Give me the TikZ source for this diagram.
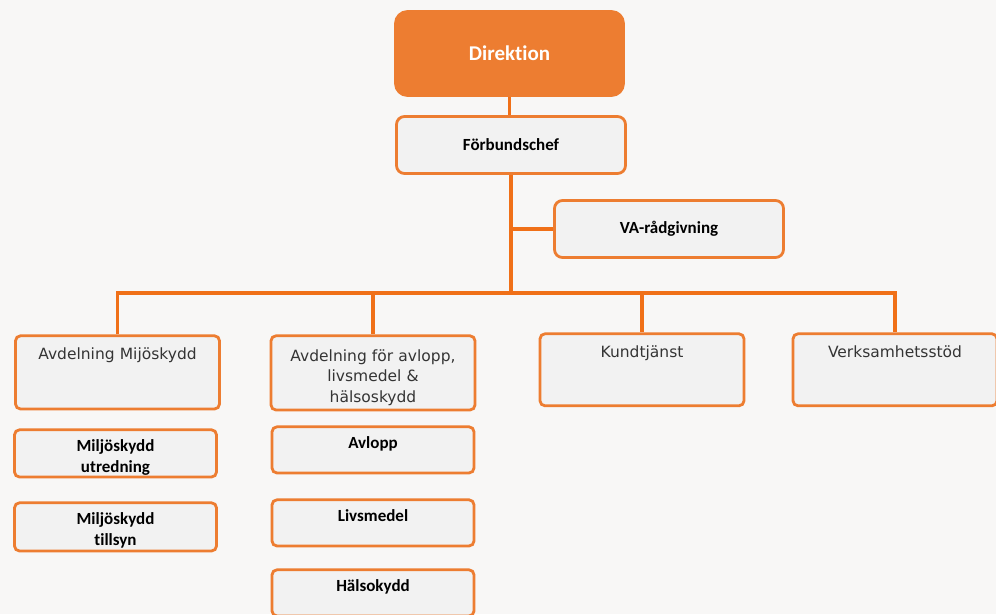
\documentclass[tikz,border=0pt]{standalone}
\usepackage{fontspec}
\setmainfont{Carlito}[Ligatures=NoCommon]
\newfontfamily\deptfont{DejaVu Sans}
\usetikzlibrary{positioning}
\definecolor{OrgOrange}{RGB}{237,125,49}
\definecolor{LinkOrange}{RGB}{240,112,24}
\definecolor{BoxGray}{RGB}{242,242,242}
\definecolor{PageGray}{RGB}{248,247,246}
\definecolor{TextGray}{RGB}{52,52,52}

\tikzset{
	box/.style={draw=OrgOrange, line width=2.8pt, fill=BoxGray, rounded corners=5pt,
		align=center, inner xsep=4pt, inner ysep=3pt},
	headbox/.style={box, rounded corners=8pt, minimum width=229pt, minimum height=57pt,
		font=\bfseries\fontsize{17}{20}\selectfont},
	dept/.style={box, anchor=north, minimum width=202pt, text width=196pt,
		text height=20.6pt, text depth=#1, text=TextGray,
		font=\deptfont\fontsize{15.5}{20.5}\selectfont},
	unit/.style={box, anchor=north, minimum width=202pt, text width=194pt,
		text height=18.6pt, text depth=#1, font=\bfseries\fontsize{17}{21}\selectfont},
	link/.style={draw=LinkOrange, line width=3.2pt},
}

\begin{document}
\begin{tikzpicture}[x=1pt, y=-1pt]
	\fill[PageGray] (0,0) rectangle (996,614);
	\useasboundingbox (0,0) rectangle (996,614);
	
	% ledning
	\node[headbox, draw=OrgOrange, fill=OrgOrange, text=white, rounded corners=12pt,
		minimum width=228pt, minimum height=84pt, font=\bfseries\fontsize{21}{24}\selectfont]
		(dir) at (509.5,53.5) {Direktion};
	\node[headbox] (fchef) at (511,145) {Förbundschef};
	\node[headbox] (va) at (669,229) {VA-rådgivning};
	
	% avdelningar
	\coordinate (bus) at (0,293);
	\node[dept=46.6pt] (avdmiljo) at (117.5,334.4) {Avdelning Mijöskydd};
	\node[dept=45.6pt, text height=22.6pt] (avdavlopp) at (373,334.4)
		{Avdelning för avlopp,\\ livsmedel \&\\ hälsoskydd};
	\node[dept=45.4pt] (kund) at (642,332.4) {Kundtjänst};
	\node[dept=45.4pt] (verk) at (895,332.4) {Verksamhetsstöd};
	
	% enheter
	\node[unit=22.6pt] (utredning) at (115.5,428.4) {Miljöskydd\\ utredning};
	\node[unit=23.6pt] (tillsyn) at (115.5,501.4) {Miljöskydd\\ tillsyn};
	\node[unit=21.6pt] (avlopp) at (373,425.4) {Avlopp};
	\node[unit=21.6pt] (livsmedel) at (373,498.4) {Livsmedel};
	\node[unit=21.6pt] (halso) at (373,568.4) {Hälsokydd};
	
	% linjer
	\draw[link] (dir.south) -- (dir.south |- fchef.north);
	\draw[link] (fchef.south) -- (fchef.south |- bus);
	\draw[link] (fchef.south |- va.west) -- (va.west);
	\draw[link] (avdmiljo.north) -- (avdmiljo.north |- bus) -- (verk.north |- bus) -- (verk.north);
	\draw[link] (avdavlopp.north |- bus) -- (avdavlopp.north);
	\draw[link] (kund.north |- bus) -- (kund.north);
\end{tikzpicture}
\end{document}
